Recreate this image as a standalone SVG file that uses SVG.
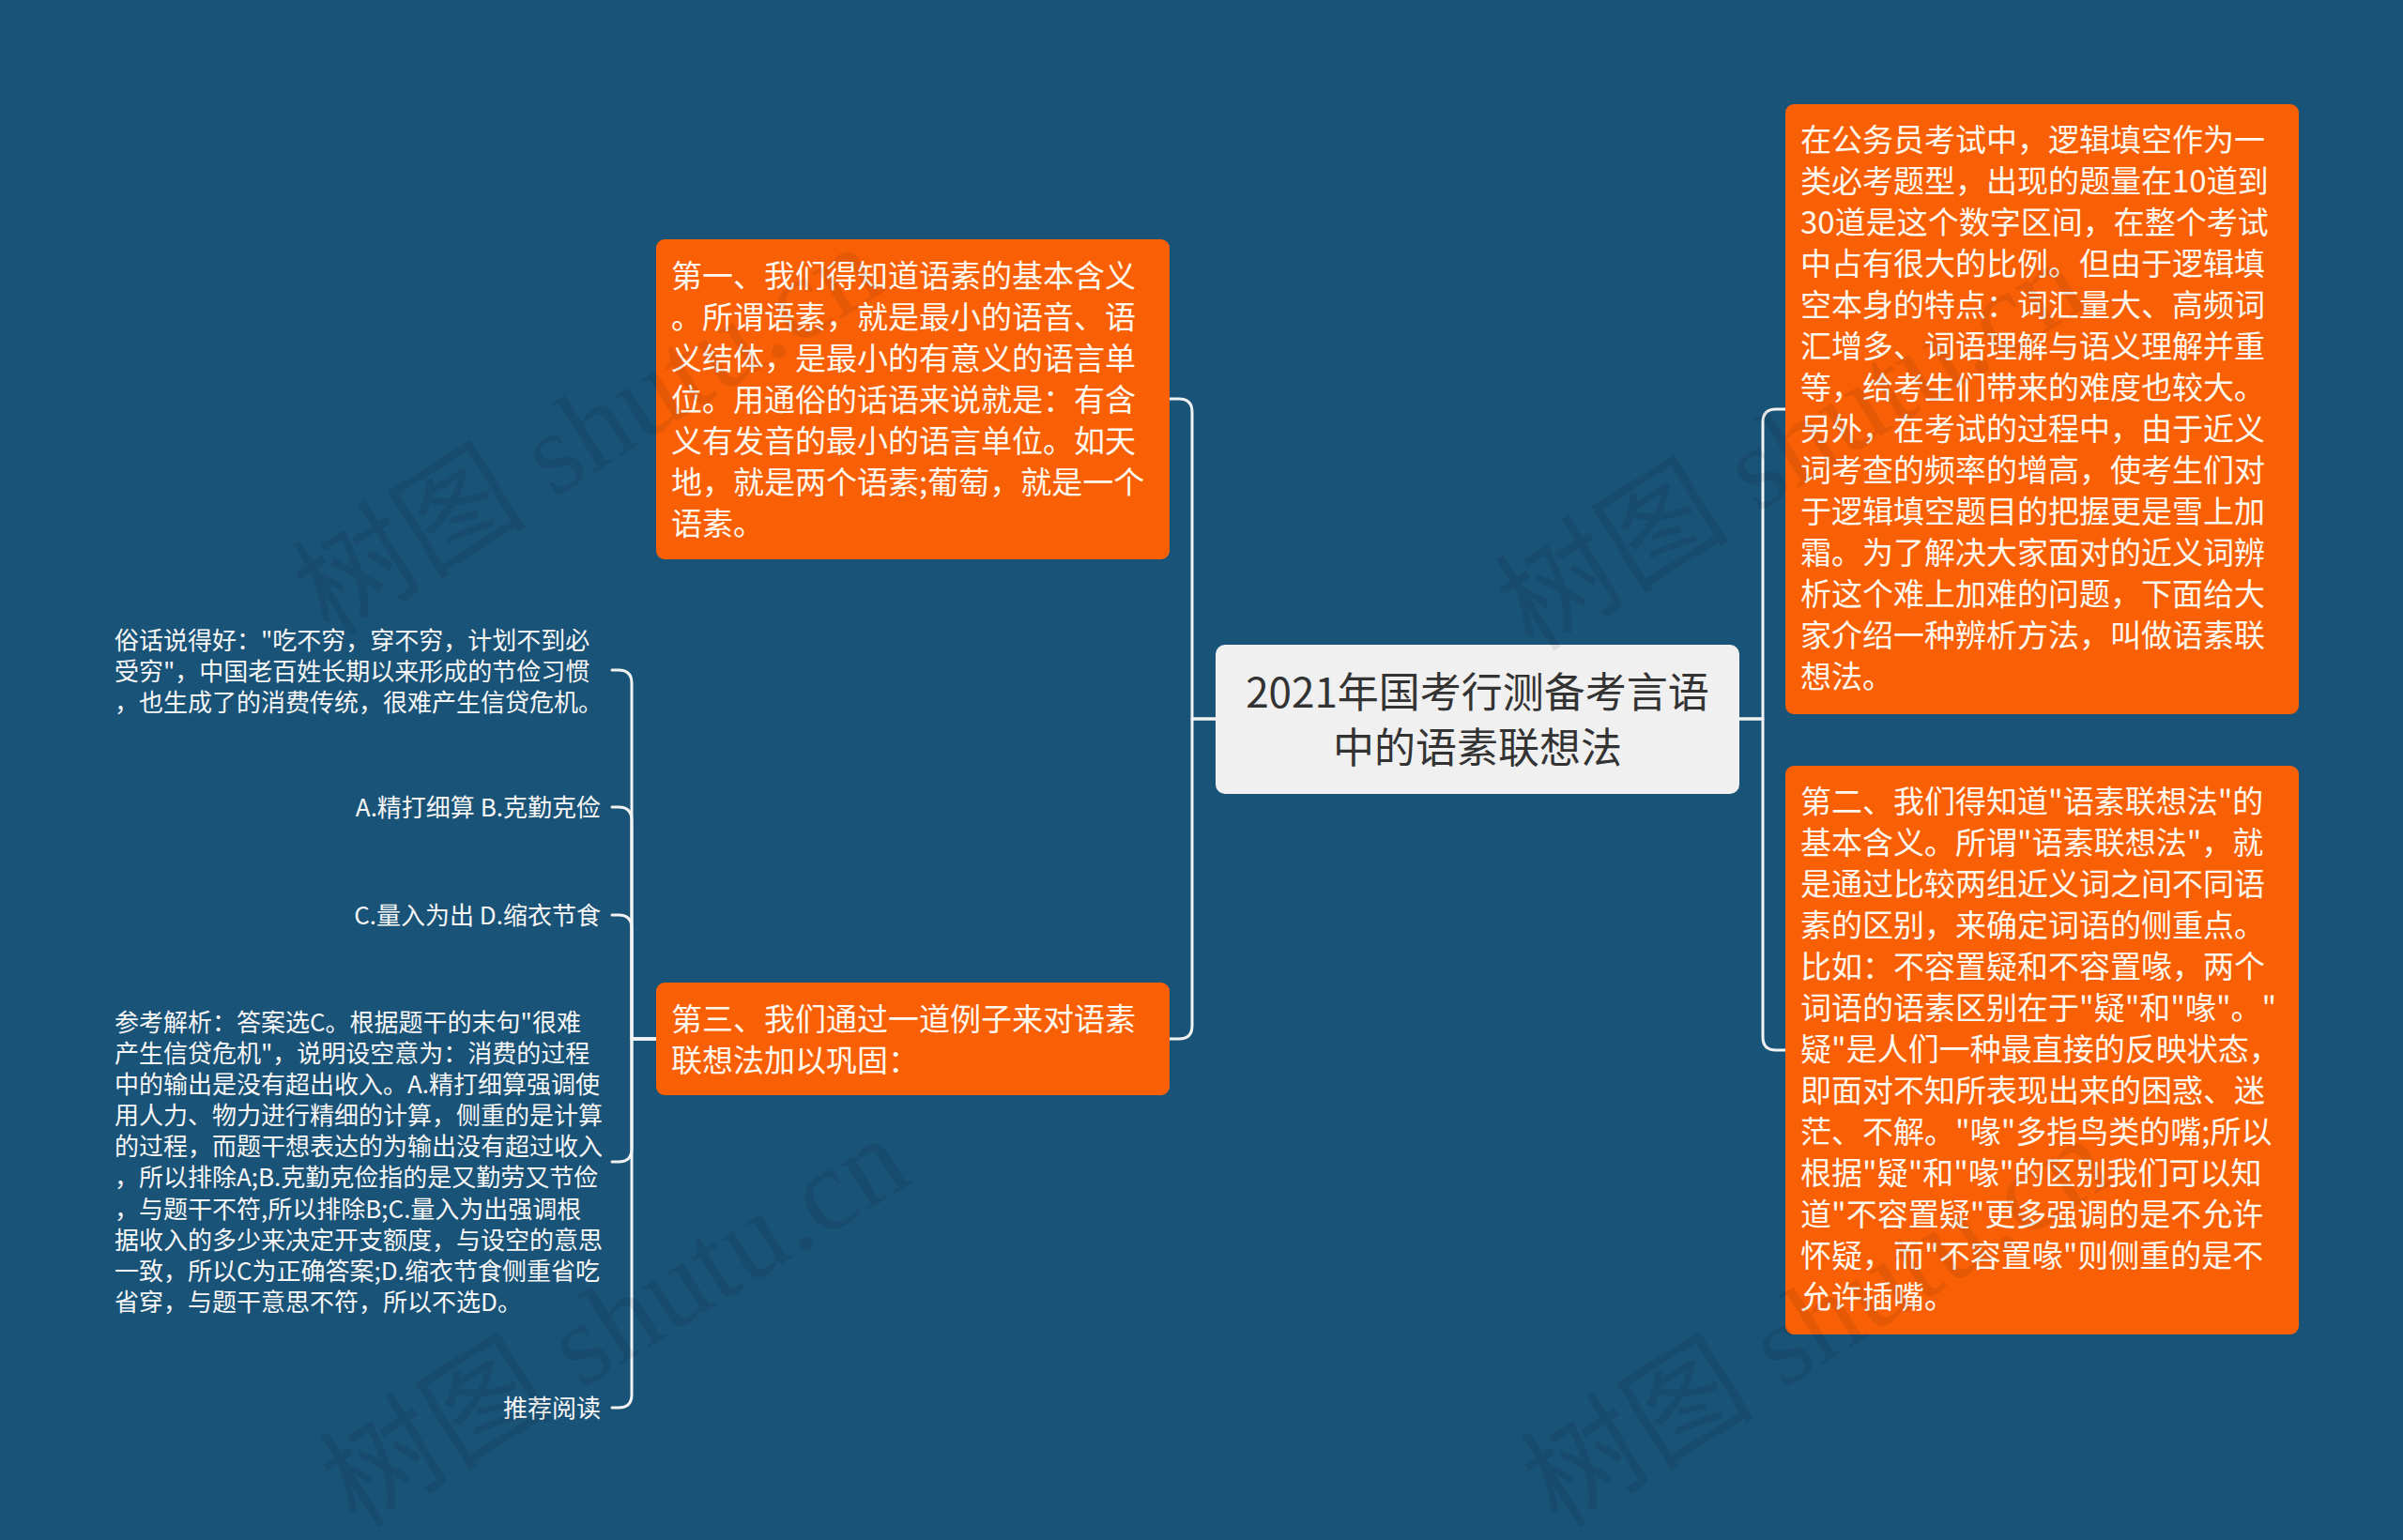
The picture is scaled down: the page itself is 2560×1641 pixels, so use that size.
<svg xmlns="http://www.w3.org/2000/svg" width="2560" height="1641" viewBox="0 0 2560 1641">
<style>
.bg{fill:#1a5378}
.org{fill:#f96006}
.ctr{fill:#f0f0f0}
.ot{font-family:"Noto Sans CJK SC","Microsoft YaHei",sans-serif;font-size:33px;fill:#fff8ee}
.ct{font-family:"Noto Sans CJK SC","Microsoft YaHei",sans-serif;font-size:44px;fill:#333333;text-anchor:middle}
.lt{font-family:"Noto Sans CJK SC","Microsoft YaHei",sans-serif;font-size:26px;fill:#f7f7f7}
.end{text-anchor:end}
.cn{fill:none;stroke:#f2f2f2;stroke-width:3;stroke-linecap:round;stroke-linejoin:round}
.wm{font-family:"Liberation Serif","Noto Sans CJK SC",serif;font-size:125px;fill:#000000;fill-opacity:0.08}
</style>
<rect class="bg" x="0" y="0" width="2560" height="1641"/>

<g id="connectors">
<path class="cn" d="M1295,766 H1270 V439 Q1270,425 1256,425 H1246"/>
<path class="cn" d="M1295,766 H1270 V1093 Q1270,1107 1256,1107 H1246"/>
<path class="cn" d="M1853,766 H1878 V450 Q1878,436 1892,436 H1902"/>
<path class="cn" d="M1853,766 H1878 V1105 Q1878,1119 1892,1119 H1902"/>
<path class="cn" d="M699,1107 H673 V728 Q673,714 659,714 H652"/>
<path class="cn" d="M699,1107 H673 V874 Q673,860 659,860 H652"/>
<path class="cn" d="M699,1107 H673 V989 Q673,975 659,975 H652"/>
<path class="cn" d="M699,1107 H673 V1224 Q673,1238 659,1238 H652"/>
<path class="cn" d="M699,1107 H673 V1486 Q673,1500 659,1500 H652"/>
</g>

<g id="center">
<rect class="ctr" x="1295" y="687" width="558" height="159" rx="10"/>
<text class="ct" x="1574" y="754">2021年国考行测备考言语</text>
<text class="ct" x="1574" y="813">中的语素联想法</text>
</g>

<g id="node1">
<rect class="org" x="699" y="255" width="547" height="341" rx="9"/>
<text class="ot" x="715" y="306">第一、我们得知道语素的基本含义</text>
<text class="ot" x="715" y="350">。所谓语素，就是最小的语音、语</text>
<text class="ot" x="715" y="394">义结体，是最小的有意义的语言单</text>
<text class="ot" x="715" y="438">位。用通俗的话语来说就是：有含</text>
<text class="ot" x="715" y="482">义有发音的最小的语言单位。如天</text>
<text class="ot" x="715" y="526">地，就是两个语素;葡萄，就是一个</text>
<text class="ot" x="715" y="570">语素。</text>
</g>

<g id="node3">
<rect class="org" x="699" y="1047" width="547" height="120" rx="9"/>
<text class="ot" x="715" y="1098">第三、我们通过一道例子来对语素</text>
<text class="ot" x="715" y="1142">联想法加以巩固：</text>
</g>

<g id="nodeA">
<rect class="org" x="1902" y="111" width="547" height="650" rx="9"/>
<text class="ot" x="1918" y="161">在公务员考试中，逻辑填空作为一</text>
<text class="ot" x="1918" y="205">类必考题型，出现的题量在10道到</text>
<text class="ot" x="1918" y="249">30道是这个数字区间，在整个考试</text>
<text class="ot" x="1918" y="293">中占有很大的比例。但由于逻辑填</text>
<text class="ot" x="1918" y="337">空本身的特点：词汇量大、高频词</text>
<text class="ot" x="1918" y="381">汇增多、词语理解与语义理解并重</text>
<text class="ot" x="1918" y="425">等，给考生们带来的难度也较大。</text>
<text class="ot" x="1918" y="469">另外，在考试的过程中，由于近义</text>
<text class="ot" x="1918" y="513">词考查的频率的增高，使考生们对</text>
<text class="ot" x="1918" y="557">于逻辑填空题目的把握更是雪上加</text>
<text class="ot" x="1918" y="601">霜。为了解决大家面对的近义词辨</text>
<text class="ot" x="1918" y="645">析这个难上加难的问题，下面给大</text>
<text class="ot" x="1918" y="689">家介绍一种辨析方法，叫做语素联</text>
<text class="ot" x="1918" y="733">想法。</text>
</g>

<g id="nodeB">
<rect class="org" x="1902" y="816" width="547" height="606" rx="9"/>
<text class="ot" x="1918" y="866">第二、我们得知道"语素联想法"的</text>
<text class="ot" x="1918" y="910">基本含义。所谓"语素联想法"，就</text>
<text class="ot" x="1918" y="954">是通过比较两组近义词之间不同语</text>
<text class="ot" x="1918" y="998">素的区别，来确定词语的侧重点。</text>
<text class="ot" x="1918" y="1042">比如：不容置疑和不容置喙，两个</text>
<text class="ot" x="1918" y="1086">词语的语素区别在于"疑"和"喙"。"</text>
<text class="ot" x="1918" y="1130">疑"是人们一种最直接的反映状态，</text>
<text class="ot" x="1918" y="1174">即面对不知所表现出来的困惑、迷</text>
<text class="ot" x="1918" y="1218">茫、不解。"喙"多指鸟类的嘴;所以</text>
<text class="ot" x="1918" y="1262">根据"疑"和"喙"的区别我们可以知</text>
<text class="ot" x="1918" y="1306">道"不容置疑"更多强调的是不允许</text>
<text class="ot" x="1918" y="1350">怀疑，而"不容置喙"则侧重的是不</text>
<text class="ot" x="1918" y="1394">允许插嘴。</text>
</g>

<g id="leaf1">
<text class="lt" x="122" y="692">俗话说得好："吃不穷，穿不穷，计划不到必</text>
<text class="lt" x="122" y="725">受穷"，中国老百姓长期以来形成的节俭习惯</text>
<text class="lt" x="122" y="758">，也生成了的消费传统，很难产生信贷危机。</text>
</g>

<g id="leaf2">
<text class="lt end" x="640" y="870">A.精打细算 B.克勤克俭</text>
</g>

<g id="leaf3">
<text class="lt end" x="640" y="985">C.量入为出 D.缩衣节食</text>
</g>

<g id="leaf4">
<text class="lt" x="122" y="1099">参考解析：答案选C。根据题干的末句"很难</text>
<text class="lt" x="122" y="1132">产生信贷危机"，说明设空意为：消费的过程</text>
<text class="lt" x="122" y="1165">中的输出是没有超出收入。A.精打细算强调使</text>
<text class="lt" x="122" y="1198">用人力、物力进行精细的计算，侧重的是计算</text>
<text class="lt" x="122" y="1231">的过程，而题干想表达的为输出没有超过收入</text>
<text class="lt" x="122" y="1264">，所以排除A;B.克勤克俭指的是又勤劳又节俭</text>
<text class="lt" x="122" y="1298">，与题干不符,所以排除B;C.量入为出强调根</text>
<text class="lt" x="122" y="1331">据收入的多少来决定开支额度，与设空的意思</text>
<text class="lt" x="122" y="1364">一致，所以C为正确答案;D.缩衣节食侧重省吃</text>
<text class="lt" x="122" y="1397">省穿，与题干意思不符，所以不选D。</text>
</g>

<g id="leaf5">
<text class="lt end" x="640" y="1510">推荐阅读</text>
</g>

<g id="watermark">
<text class="wm" transform="translate(351,680) rotate(-32)">树图 shutu.cn</text>
<text class="wm" transform="translate(380,1630) rotate(-32)">树图 shutu.cn</text>
<text class="wm" transform="translate(1633,696) rotate(-32)">树图 shutu.cn</text>
<text class="wm" transform="translate(1660,1630) rotate(-32)">树图 shutu.cn</text>
</g>
</svg>
